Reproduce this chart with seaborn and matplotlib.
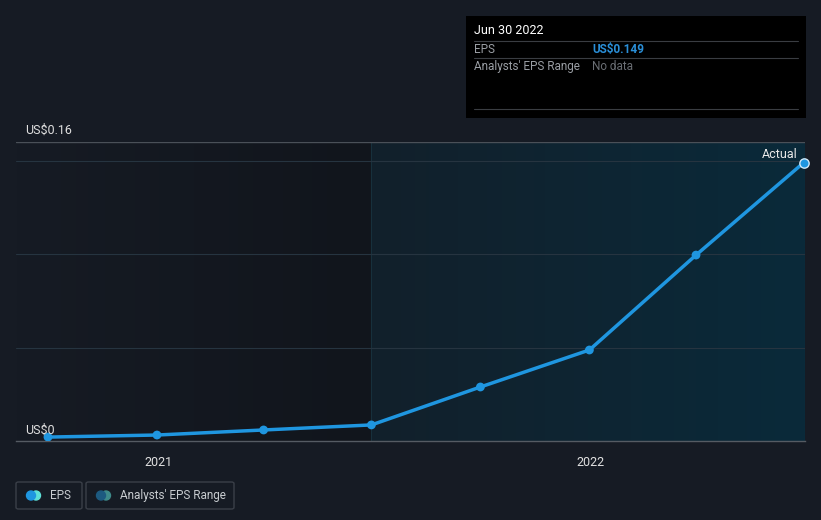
import matplotlib
matplotlib.use("Agg")
import matplotlib.pyplot as plt
import matplotlib.dates as mdates
from matplotlib.patches import Rectangle, FancyBboxPatch, Ellipse
from matplotlib.colors import LinearSegmentedColormap
import numpy as np
import pandas as pd
import seaborn as sns

# ---- data ----
dates = ["2020-09-30", "2020-12-31", "2021-03-31", "2021-06-30",
         "2021-09-30", "2021-12-31", "2022-03-31", "2022-06-30"]
eps = [0.0021, 0.0032, 0.0059, 0.0086, 0.0289, 0.0487, 0.0995, 0.149]
y_ticks = [0.0, 0.16]
y_tick_labels = ["US$0", "US$0.16"]
x_ticks = ["2021-01-01", "2022-01-01"]
x_tick_labels = ["2021", "2022"]
divider_date = "2021-06-30"

df = pd.DataFrame({"date": pd.to_datetime(dates), "eps": eps})

BG = "#161b24"
LINE = "#1f96e0"

sns.set_theme(style="dark")
plt.rcParams['font.family'] = ['Roboto', 'DejaVu Sans']

fig = plt.figure(figsize=(8.21, 5.2), dpi=100, facecolor=BG)
W, H = 821, 520
ax = fig.add_axes([16 / W, 1 - 441 / H, (805 - 16) / W, (441 - 142) / H])
ax.set_facecolor(BG)

xmin = pd.Timestamp("2020-09-03")
xmax = pd.Timestamp("2022-07-01")
ax.set_xlim(xmin, xmax)
ax.set_ylim(0, 0.16)

div = pd.Timestamp(divider_date)
grad = np.linspace(0, 1, 256).reshape(1, -1)
cm_left = LinearSegmentedColormap.from_list("l", ["#161b24", "#11151c"])
ax.imshow(grad, extent=[mdates.date2num(xmin), mdates.date2num(div), 0, 0.16],
          aspect="auto", cmap=cm_left, zorder=0)
cm_right = LinearSegmentedColormap.from_list("r", ["#12202b", "#0a2a3a"])
ax.imshow(grad, extent=[mdates.date2num(div), mdates.date2num(xmax), 0, 0.16],
          aspect="auto", cmap=cm_right, zorder=0)
ax.axvline(div, color="#17303c", lw=0.8, zorder=1)

for g in [0.05, 0.10, 0.15]:
    ax.axhline(g, color="#263440", lw=0.8, zorder=1)
ax.axhline(0.16, color="#4a5058", lw=1.0, zorder=1)

sns.lineplot(data=df, x="date", y="eps", ax=ax, color=LINE, lw=2.5, zorder=3)
ax.scatter(df["date"][:-1], df["eps"][:-1], s=40, color=LINE, zorder=4, edgecolor="none")
ax.scatter(df["date"].iloc[-1:], df["eps"].iloc[-1:], s=45, color=LINE, zorder=5,
           edgecolor="#d0e8f8", linewidth=1.0, clip_on=False)

ax.set_xlabel("")
ax.set_ylabel("")
ax.set_yticks([])
ax.set_xticks(pd.to_datetime(x_ticks))
ax.set_xticklabels(x_tick_labels, color="#e0e0e0", fontsize=9)
ax.tick_params(axis="x", length=5, color="#555b63", pad=6)
for s in ["top", "right", "left"]:
    ax.spines[s].set_visible(False)
ax.spines["bottom"].set_color("#555b63")
ax.spines["bottom"].set_linewidth(1.0)
ax.grid(False)

fig.text(25 / W, 1 - 130 / H, y_tick_labels[1], color="#e0e0e0", fontsize=9, va="center", ha="left")
fig.text(25 / W, 1 - 430 / H, y_tick_labels[0], color="#e0e0e0", fontsize=9, va="center", ha="left")
ax.text(pd.Timestamp("2022-06-25"), 0.1535, "Actual", color="#e8e8e8", fontsize=9,
        ha="right", va="center")

# tooltip box
fig.patches.append(Rectangle((466 / W, 1 - 118 / H), 340 / W, 102 / H,
                             transform=fig.transFigure, facecolor="#000000",
                             edgecolor="none", zorder=5))
fig.text(474 / W, 1 - 31 / H, "Jun 30 2022", color="#ffffff", fontsize=9, va="center", zorder=6)
for yy in [41, 58, 109]:
    fig.add_artist(plt.Line2D([474 / W, 798 / W], [1 - yy / H, 1 - yy / H],
                              color="#3a3d42", lw=0.8, zorder=6))
fig.text(474 / W, 1 - 49.5 / H, "EPS", color="#9a9ea4", fontsize=8.5, va="center", zorder=6)
fig.text(592 / W, 1 - 49.5 / H, "US$0.149", color="#2a8fd8", fontsize=8.5, va="center",
         fontweight="bold", zorder=6)
fig.text(474 / W, 1 - 66.5 / H, "Analysts' EPS Range", color="#9a9ea4", fontsize=8.5,
         va="center", zorder=6)
fig.text(592 / W, 1 - 66.5 / H, "No data", color="#6a6e74", fontsize=8.5, va="center", zorder=6)

# legend
def legend_box(x0, x1, label, c1, c2):
    fig.patches.append(FancyBboxPatch((x0 / W, 1 - 509 / H), (x1 - x0) / W, 27 / H,
                                      boxstyle="round,pad=0,rounding_size=0.003",
                                      transform=fig.transFigure, facecolor="none",
                                      edgecolor="#3a3f48", lw=1.0))
    fig.add_artist(Ellipse(((x0 + 20) / W, 1 - 495.5 / H), 9 / W, 9 / H, color=c2,
                           transform=fig.transFigure))
    fig.add_artist(Ellipse(((x0 + 15) / W, 1 - 495.5 / H), 9 / W, 9 / H, color=c1,
                           transform=fig.transFigure))
    fig.text((x0 + 34) / W, 1 - 495.5 / H, label, color="#c8ccd0", fontsize=8.5, va="center")

legend_box(16, 82, "EPS", "#1f96e0", "#5ee0d8")
legend_box(86, 234, "Analysts' EPS Range", "#1d5a80", "#3e8a8a")

fig.savefig("out.png", dpi=100, facecolor=BG)
